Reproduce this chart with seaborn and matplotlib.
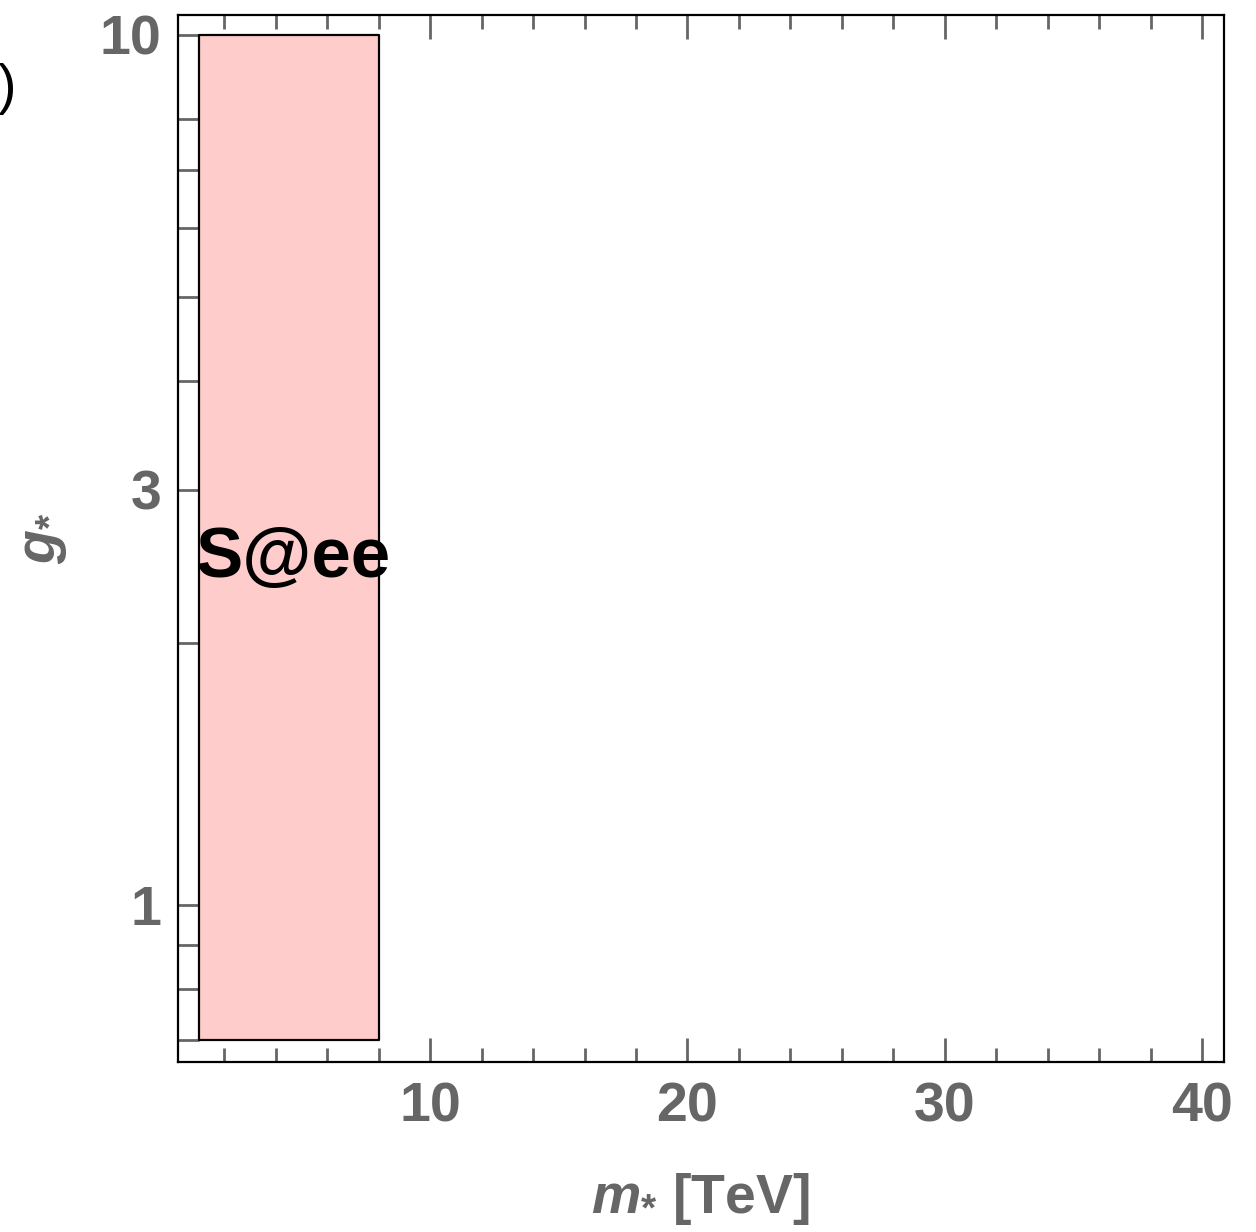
import matplotlib
matplotlib.use("Agg")
import matplotlib.pyplot as plt
import seaborn as sns
from matplotlib.ticker import FixedLocator, NullFormatter

# region S@ee in the (m_*, g_*) plane
region_label = "S@ee"
m_range = [1, 8]        # TeV
g_range = [0.7, 10]

x_major = [10, 20, 30, 40]
x_minor = [v for v in range(2, 42, 2) if v % 10 != 0]
y_major = [1, 3, 10]
y_major_labels = ["1", "3", "10"]
y_minor = [0.7, 0.8, 0.9, 2, 4, 5, 6, 7, 8]

sns.set_theme(style="ticks")
plt.rcParams["font.family"] = ["Liberation Sans", "DejaVu Sans"]
plt.rcParams["mathtext.fontset"] = "custom"
plt.rcParams["mathtext.it"] = "Liberation Sans:italic:bold"
plt.rcParams["mathtext.rm"] = "Liberation Sans:bold"
plt.rcParams["mathtext.bf"] = "Liberation Sans:bold"

gray = "#666666"
fig = plt.figure(figsize=(12.56, 12.32), dpi=100)
ax = fig.add_axes([0.1417, 0.138, 0.8328, 0.8498])

ax.fill_between(m_range, g_range[0], g_range[1], facecolor="#ffcccc",
                edgecolor="black", linewidth=1.6, zorder=2)
ax.text(m_range[0] - 0.1, 2.5, region_label, fontsize=51, fontweight="bold",
        color="black", ha="left", va="center", zorder=3)

ax.set_yscale("log")
ax.set_xlim(0.2, 40.85)
ax.set_ylim(0.66, 10.54)

ax.xaxis.set_major_locator(FixedLocator(x_major))
ax.xaxis.set_minor_locator(FixedLocator(x_minor))
ax.yaxis.set_major_locator(FixedLocator(y_major))
ax.yaxis.set_minor_locator(FixedLocator(y_minor))
ax.set_yticklabels(y_major_labels)
ax.yaxis.set_minor_formatter(NullFormatter())

ax.tick_params(axis="x", which="both", direction="in", top=True, bottom=True,
               color=gray, width=2, labelsize=40, labelcolor=gray, pad=14)
ax.tick_params(axis="x", which="major", length=17)
ax.tick_params(axis="x", which="minor", length=10)
ax.tick_params(axis="y", which="both", direction="in", left=True, right=False,
               color=gray, width=2, length=15, labelsize=40, labelcolor=gray, pad=12)
for lab in ax.get_xticklabels() + ax.get_yticklabels():
    lab.set_fontweight("bold")

for s in ax.spines.values():
    s.set_color("black")
    s.set_linewidth(1.6)

ax.set_xlabel(r"$m_{\mathbf{*}}$ [TeV]", fontsize=40, color=gray, fontweight="bold", labelpad=27)
ax.set_ylabel(r"$g_{\mathbf{*}}$", fontsize=40, color=gray, labelpad=22)

fig.text(0.013, 0.928, ")", fontsize=40, color="black", ha="right", va="center")

fig.savefig("out.png", dpi=100)
